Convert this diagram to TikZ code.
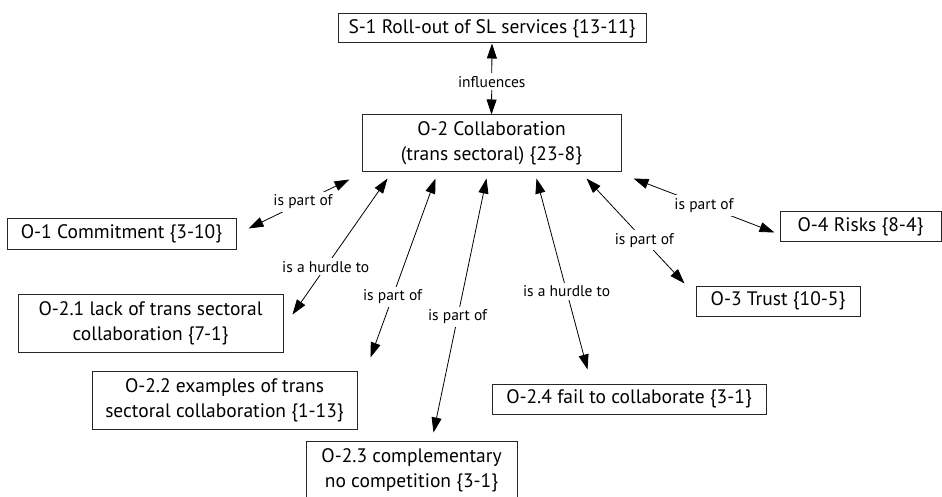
\documentclass[tikz,border=0pt]{standalone}
\usepackage{fontspec}
\setmainfont{PT Sans}
\usetikzlibrary{arrows.meta,calc}
\begin{document}
\begin{tikzpicture}[x=1pt,y=-1pt,
  box/.style={draw=black!85, line width=1pt, inner sep=0pt, align=center,
    font=\fontsize{19.5}{25}\selectfont},
  rel/.style={line width=0.8pt, {Triangle[length=15pt,width=10pt]}-{Triangle[length=15pt,width=10pt]}},
  lbl/.style={fill=white, inner sep=3pt, font=\fontsize{15.5}{18}\selectfont}]
\useasboundingbox (0,0) rectangle (942,497);

% concept boxes
\node[box, minimum width=308pt, minimum height=29pt] (s1) at (492,28.5)
  {S-1 Roll-out of SL services \{13-11\}};
\node[box, minimum width=259pt, minimum height=57pt] (o2) at (491.5,143.5)
  {O-2 Collaboration\\(trans sectoral) \{23-8\}};
\node[box, minimum width=229pt, minimum height=30pt] (o1) at (121.5,234)
  {O-1 Commitment \{3-10\}};
\node[box, minimum width=265pt, minimum height=58pt] (o21) at (150.5,323)
  {O-2.1 lack of trans sectoral\\collaboration \{7-1\}};
\node[box, minimum width=265pt, minimum height=58pt] (o22) at (224.5,400)
  {O-2.2 examples of trans\\sectoral collaboration \{1-13\}};
\node[box, minimum width=211pt, minimum height=58pt] (o23) at (411.5,470)
  {O-2.3 complementary\\no competition \{3-1\}};
\node[box, minimum width=274pt, minimum height=30pt] (o24) at (629,399)
  {O-2.4 fail to collaborate \{3-1\}};
\node[box, minimum width=164pt, minimum height=30pt] (o3) at (778,301)
  {O-3 Trust \{10-5\}};
\node[box, minimum width=161pt, minimum height=29pt] (o4) at (860.5,226.5)
  {O-4 Risks \{8-4\}};

% relations
\draw[rel] (s1.south) -- node[lbl,pos=0.54] (lin) {influences} (o2.north);
\draw[rel] ($(o2.south west)+(-12,7)$) -- node[lbl,pos=0.46] (l1) {is part of}
  ($(o1.north east)+(12,10)$);
\draw[rel] ($(o2.south west)+(26,6)$) -- node[lbl,pos=0.65] (l21) {is a hurdle to}
  ($(o21.north east)+(9,21)$);
\draw[rel] ($(o2.south west)+(74,6)$) -- node[lbl,pos=0.66] (l22) {is part of}
  ($(o22.north east)+(13,-13)$);
\draw[rel] ($(o2.south west)+(125,6)$) -- node[lbl,pos=0.545] (l23) {is part of}
  ($(o23.north west)+(128,-8)$);
\draw[rel] ($(o2.south west)+(175,6)$) -- node[lbl,pos=0.59] (l24) {is a hurdle to}
  ($(o24.north west)+(96,-14)$);
\draw[rel] ($(o2.south west)+(225,6)$) -- node[lbl,pos=0.59] (l3) {is part of}
  ($(o3.north west)+(-11,-2)$);
\draw[rel] ($(o2.south east)+(12,6)$) -- node[lbl,pos=0.5] (l4) {is part of}
  ($(o4.north west)+(-5,21)$);
\end{tikzpicture}
\end{document}
